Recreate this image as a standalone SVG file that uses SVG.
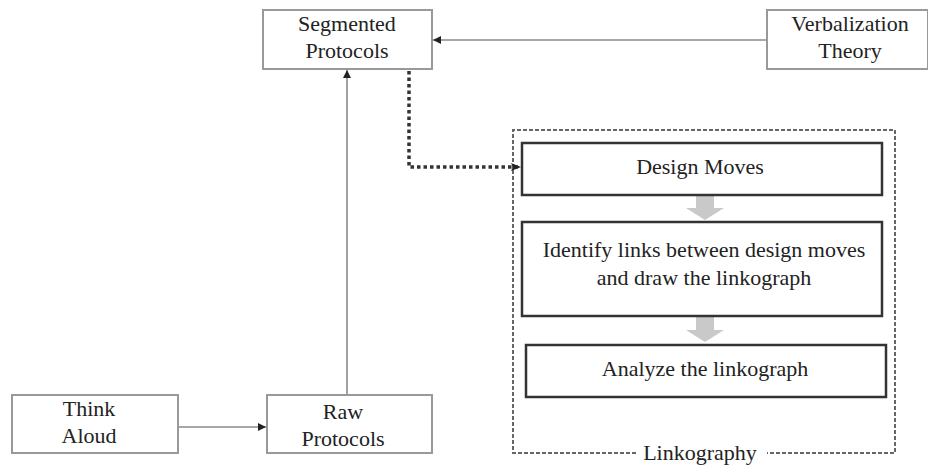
<svg xmlns="http://www.w3.org/2000/svg" width="928" height="466" viewBox="0 0 928 466">
<defs>
<style>
.t{font-family:"Liberation Serif","Times New Roman",serif;font-size:22px;fill:#222;text-anchor:middle}
.ob{fill:#fff;stroke:#999;stroke-width:2}
.ib{fill:#fff;stroke:#333;stroke-width:2.5}
.c{fill:none;stroke:#8a8a8a;stroke-width:1.6}
.blk{fill:#c9c9c9}
</style>
<marker id="ah" viewBox="0 0 10 10" refX="10" refY="5" markerWidth="9" markerHeight="8" markerUnits="userSpaceOnUse" orient="auto">
<path d="M0,0 L10,5 L0,10 z" fill="#222"/>
</marker>
<marker id="dh" viewBox="0 0 10 10" refX="9" refY="5" markerWidth="10" markerHeight="10" markerUnits="userSpaceOnUse" orient="auto">
<path d="M0,1 L10,5 L0,9 L2,5 z" fill="#222"/>
</marker>
</defs>
<rect width="928" height="466" fill="#fff"/>

<g id="linkography">
<path d="M636,453 H513 V130 H895 V453 H767" fill="none" stroke="#666" stroke-width="2" stroke-dasharray="4,2"/>
<text class="t" x="700" y="460">Linkography</text>
</g>

<g id="connectors">
<line class="c" x1="767" y1="40" x2="433" y2="40" marker-end="url(#ah)"/>
<line class="c" x1="347" y1="395" x2="347" y2="70" marker-end="url(#ah)"/>
<line class="c" x1="178" y1="427" x2="266" y2="427" marker-end="url(#ah)"/>
<path d="M409,71 V167 H520" fill="none" stroke="#333" stroke-width="3.5" stroke-dasharray="3.5,3" marker-end="url(#dh)"/>
<path class="blk" d="M696,196 H714 V208 H724 L705,220 L686,208 H696 z"/>
<path class="blk" d="M696,317 H714 V330 H724 L705,342 L686,330 H696 z"/>
</g>

<g id="segmented-protocols">
<rect class="ob" x="263" y="10" width="169" height="59"/>
<text class="t" x="347" y="31">Segmented</text>
<text class="t" x="347" y="58">Protocols</text>
</g>

<g id="verbalization-theory">
<rect class="ob" x="767" y="10" width="161" height="59"/>
<text class="t" x="850" y="31">Verbalization</text>
<text class="t" x="850" y="58">Theory</text>
</g>

<g id="design-moves">
<rect class="ib" x="522" y="143" width="360" height="52"/>
<text class="t" x="700" y="174">Design Moves</text>
</g>

<g id="identify-links">
<rect class="ib" x="522" y="222" width="360" height="94"/>
<text class="t" x="704" y="257">Identify links between design moves</text>
<text class="t" x="704" y="285">and draw the linkograph</text>
</g>

<g id="analyze">
<rect class="ib" x="526" y="345" width="360" height="52"/>
<text class="t" x="705" y="376">Analyze the linkograph</text>
</g>

<g id="think-aloud">
<rect class="ob" x="12" y="395" width="166" height="58"/>
<text class="t" x="89" y="416">Think</text>
<text class="t" x="89" y="443">Aloud</text>
</g>

<g id="raw-protocols">
<rect class="ob" x="267" y="395" width="165" height="58"/>
<text class="t" x="343" y="419">Raw</text>
<text class="t" x="343" y="446">Protocols</text>
</g>
</svg>
